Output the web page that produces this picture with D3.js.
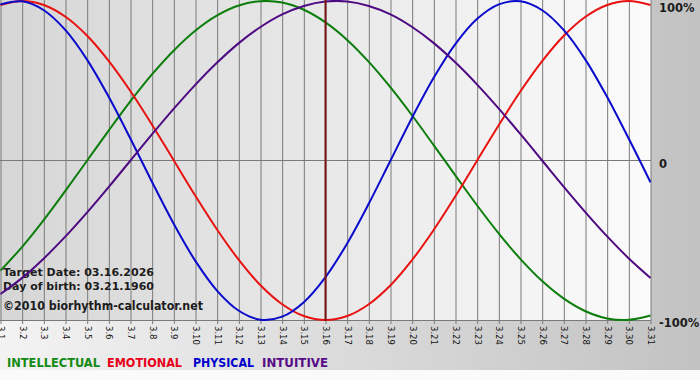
<!DOCTYPE html>
<html>
<head>
<meta charset="utf-8">
<script src="https://cdn.jsdelivr.net/npm/d3@7"></script>
<style>
  html, body { margin: 0; padding: 0; background: #fafafa; }
  svg { display: block; }
</style>
</head>
<body>
<svg id="chart" width="700" height="380"></svg>
<script>
// Chart data (one value per day of March 2026)
const days = [1, 2, 3, 4, 5, 6, 7, 8, 9, 10, 11, 12, 13, 14, 15, 16,
              17, 18, 19, 20, 21, 22, 23, 24, 25, 26, 27, 28, 29, 30, 31];
const dayLabels = ['3.1', '3.2', '3.3', '3.4', '3.5', '3.6', '3.7', '3.8', '3.9', '3.10',
                   '3.11', '3.12', '3.13', '3.14', '3.15', '3.16', '3.17', '3.18', '3.19', '3.20',
                   '3.21', '3.22', '3.23', '3.24', '3.25', '3.26', '3.27', '3.28', '3.29', '3.30', '3.31'];

const intellectual = [-0.690, -0.541, -0.372, -0.189, 0.000, 0.189, 0.372, 0.541, 0.690, 0.815,
                      0.910, 0.972, 0.999, 0.990, 0.945, 0.866, 0.756, 0.618, 0.458, 0.282,
                      0.095, -0.095, -0.282, -0.458, -0.618, -0.756, -0.866, -0.945, -0.990, -0.999, -0.972];
const emotional = [0.975, 1.000, 0.975, 0.901, 0.782, 0.623, 0.434, 0.223, 0.000, -0.223,
                   -0.434, -0.623, -0.782, -0.901, -0.975, -1.000, -0.975, -0.901, -0.782, -0.623,
                   -0.434, -0.223, 0.000, 0.223, 0.434, 0.623, 0.782, 0.901, 0.975, 1.000, 0.975];
const physical = [0.979, 0.998, 0.942, 0.817, 0.631, 0.398, 0.136, -0.136, -0.398, -0.631,
                  -0.817, -0.942, -0.998, -0.979, -0.888, -0.731, -0.520, -0.270, 0.000, 0.270,
                  0.520, 0.731, 0.888, 0.979, 0.998, 0.942, 0.817, 0.631, 0.398, 0.136, -0.136];
const intuitive = [-0.837, -0.736, -0.614, -0.476, -0.325, -0.165, 0.000, 0.165, 0.325, 0.476,
                   0.614, 0.736, 0.837, 0.916, 0.969, 0.997, 0.997, 0.969, 0.916, 0.837,
                   0.736, 0.614, 0.476, 0.325, 0.165, 0.000, -0.165, -0.325, -0.476, -0.614, -0.736];

const seriesNames = ['INTELLECTUAL', 'EMOTIONAL', 'PHYSICAL', 'INTUITIVE'];
const targetDay = 16;
const yTickValues = [1, 0, -1];
const yTickLabels = ['100%', '0', '-100%'];
const infoLines = ['Target Date: 03.16.2026', 'Day of birth: 03.21.1960', '\u00a92010 biorhythm-calculator.net'];

// Styling
const lineColors = { INTELLECTUAL: '#0b7d0b', EMOTIONAL: '#e81010', PHYSICAL: '#0a0acc', INTUITIVE: '#4e0a82' };
const legendColors = { INTELLECTUAL: '#138a13', EMOTIONAL: '#e8001a', PHYSICAL: '#0000cc', INTUITIVE: '#560a86' };
const FONT = '"DejaVu Sans", Verdana, sans-serif';

const plot = { left: 0, right: 651, top: 0, bottom: 321 };

const svg = d3.select('#chart');
const defs = svg.append('defs');

// Outer background: light on the left, grey on the right
const outerGrad = defs.append('linearGradient').attr('id', 'outerGrad')
    .attr('x1', '0%').attr('x2', '100%').attr('y1', '0%').attr('y2', '0%');
outerGrad.append('stop').attr('offset', '0%').attr('stop-color', '#f3f3f3');
outerGrad.append('stop').attr('offset', '100%').attr('stop-color', '#c2c2c2');

// Plot background: grey on the left, nearly white on the right
const plotGrad = defs.append('linearGradient').attr('id', 'plotGrad')
    .attr('x1', '0%').attr('x2', '100%').attr('y1', '0%').attr('y2', '0%');
plotGrad.append('stop').attr('offset', '0%').attr('stop-color', '#d6d6d6');
plotGrad.append('stop').attr('offset', '100%').attr('stop-color', '#fbfbfb');

svg.append('rect').attr('x', 0).attr('y', 0).attr('width', 700).attr('height', 380).attr('fill', '#fafafa');
svg.append('rect').attr('x', 0).attr('y', 0).attr('width', 700).attr('height', 370).attr('fill', 'url(#outerGrad)');
svg.append('rect')
    .attr('x', plot.left).attr('y', plot.top)
    .attr('width', plot.right - plot.left).attr('height', plot.bottom - plot.top)
    .attr('fill', 'url(#plotGrad)');

// Scales
const x = d3.scaleLinear().domain([1, 31]).range([0.5, 650.5]);
const y = d3.scaleLinear().domain([-1, 1]).range([320, 1]);

// Vertical grid lines + rotated day labels via the bottom axis
const xAxis = d3.axisBottom(x)
    .tickValues(days)
    .tickFormat(d => dayLabels[d - 1])
    .tickSizeInner(-(plot.bottom - plot.top) - 3)
    .tickSizeOuter(0);

const xg = svg.append('g')
    .attr('transform', `translate(0, ${plot.bottom + 3})`)
    .call(xAxis);
xg.select('.domain').remove();
xg.selectAll('.tick line').attr('stroke', '#7a7a7a').attr('stroke-width', 1);
xg.selectAll('.tick text')
    .attr('y', 0)
    .attr('x', 0)
    .attr('dy', '0.35em')
    .attr('transform', 'translate(0, 2) rotate(90)')
    .style('text-anchor', 'start')
    .style('font-family', FONT)
    .style('font-size', '8.5px')
    .attr('fill', '#111');

// Zero line and bottom edge
svg.append('line')
    .attr('x1', plot.left).attr('x2', plot.right)
    .attr('y1', 160.5).attr('y2', 160.5)
    .attr('stroke', '#7a7a7a').attr('stroke-width', 1);
svg.append('line')
    .attr('x1', plot.left).attr('x2', plot.right)
    .attr('y1', 320.5).attr('y2', 320.5)
    .attr('stroke', '#7a7a7a').attr('stroke-width', 1);

// Right-hand percentage labels
const yAxis = d3.axisRight(y)
    .tickValues(yTickValues)
    .tickFormat((d, i) => yTickLabels[i])
    .tickSize(0);
const yg = svg.append('g')
    .attr('transform', `translate(${plot.right}, 0)`)
    .call(yAxis);
yg.select('.domain').remove();
yg.selectAll('.tick text')
    .attr('x', 8)
    .attr('dy', (d) => d === 1 ? '0.9em' : '0.6em')
    .style('font-family', FONT)
    .style('font-size', '11.5px')
    .style('font-weight', 'bold')
    .attr('fill', '#1a1a1a');

// Info text block
const infoY = [276, 290, 310];
const infoW = [151, 151, 200];
svg.append('g').selectAll('text')
    .data(infoLines)
    .join('text')
    .attr('x', 3)
    .attr('y', (d, i) => infoY[i])
    .attr('textLength', (d, i) => infoW[i])
    .attr('lengthAdjust', 'spacingAndGlyphs')
    .style('font-family', FONT)
    .style('font-size', (d, i) => i === 2 ? '11.5px' : '11px')
    .style('font-weight', 'bold')
    .attr('fill', '#1c1c1c')
    .text(d => d);

// Curves
const seriesData = [intellectual, emotional, physical, intuitive];
const line = d3.line()
    .x((d, i) => x(days[i]))
    .y(d => y(d))
    .curve(d3.curveCatmullRom.alpha(0.5));

svg.append('g').selectAll('path')
    .data(seriesData)
    .join('path')
    .attr('d', d => line(d))
    .attr('fill', 'none')
    .attr('stroke', (d, i) => lineColors[seriesNames[i]])
    .attr('stroke-width', 2);

// Target day marker
svg.append('line')
    .attr('x1', x(targetDay)).attr('x2', x(targetDay))
    .attr('y1', plot.top).attr('y2', plot.bottom)
    .attr('stroke', '#7a1414').attr('stroke-width', 2);

// Legend
const legendX = [7, 107, 193, 262];
const legendW = [93, 75, 61, 66];
svg.append('g').selectAll('text')
    .data(seriesNames)
    .join('text')
    .attr('x', (d, i) => legendX[i])
    .attr('y', 367)
    .attr('textLength', (d, i) => legendW[i])
    .attr('lengthAdjust', 'spacingAndGlyphs')
    .style('font-family', FONT)
    .style('font-size', '12.5px')
    .style('font-weight', 'bold')
    .attr('fill', d => legendColors[d])
    .text(d => d);
</script>
</body>
</html>
